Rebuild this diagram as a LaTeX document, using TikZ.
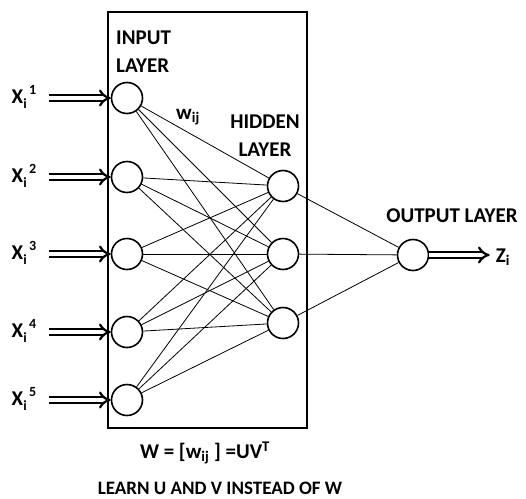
\documentclass[tikz,border=0pt]{standalone}
\usepackage{fontspec}
\setmainfont{Carlito}
\usetikzlibrary{arrows.meta, positioning}

\newcommand{\smallfig}{\fontsize{14}{14}\selectfont}
\newcommand{\xin}[2]{X\rlap{\raisebox{-0.28em}{\smallfig #1}}\hspace{0.28em}\raisebox{0.42em}{\smallfig #2}}

\begin{document}
\begin{tikzpicture}[
    x=1pt, y=-1pt,
    neuron/.style={circle, draw, line width=1.6pt, minimum size=31pt, inner sep=0pt},
    link/.style={line width=0.8pt},
    feed/.style={double, double distance=3.4pt, line width=2.2pt, -{Implies[scale=1.1]}},
    label/.style={font=\bfseries\fontsize{21}{28}\selectfont, inner sep=0pt}
]
\useasboundingbox (0,0) rectangle (526,498);

% frame around input and hidden layer
\node[draw, line width=2.2pt, minimum width=199pt, minimum height=416pt, inner sep=0pt] (frame) at (207.5,220) {};

% input layer
\node[neuron] (in1) at (127,98) {};
\node[neuron] (in2) at (127,177) {};
\node[neuron] (in3) at (127,254) {};
\node[neuron] (in4) at (127,332) {};
\node[neuron] (in5) at (127,400) {};

% hidden layer
\node[neuron] (hid1) at (283,186) {};
\node[neuron] (hid2) at (283,254) {};
\node[neuron] (hid3) at (283,323) {};

% output layer
\node[neuron] (out) at (413,255) {};

% labels
\node[label, align=left, anchor=north west] (inlabel) at (116,31) {INPUT\\LAYER};
\node[label, align=center] (hidlabel) at (265,136) {HIDDEN\\LAYER};
\node[label] (outlabel) at (452,216) {OUTPUT LAYER};
\node[label] (wlabel) at (188,117) {w\textsubscript{ij}};

\node[label] (x1) at (24,97) {\xin{i}{1}};
\node[label] (x2) at (24,176) {\xin{i}{2}};
\node[label] (x3) at (24,253) {\xin{i}{3}};
\node[label] (x4) at (24,331) {\xin{i}{4}};
\node[label] (x5) at (24,399) {\xin{i}{5}};
\node[label] (z) at (503,257) {Z\textsubscript{i}};

\node[label] (formula) at (205,453) {W = [w\textsubscript{ij} ] =UV\textsuperscript{T}};
\node[label, font=\bfseries\fontsize{19}{24}\selectfont] (note) at (220,488) {LEARN U AND V INSTEAD OF W};

% weights
\foreach \i in {1,...,5}
  \foreach \h in {1,2,3}
    \draw[link] (in\i) -- (hid\h);
\foreach \h in {1,2,3}
  \draw[link] (hid\h) -- (out);

% inputs and output
\foreach \i in {1,...,5}
  \draw[feed] ([xshift=13pt]x\i.east |- in\i) -- (in\i.west);
\draw[feed] (out.east) -- ([xshift=-6pt]z.west |- out);

\end{tikzpicture}
\end{document}
